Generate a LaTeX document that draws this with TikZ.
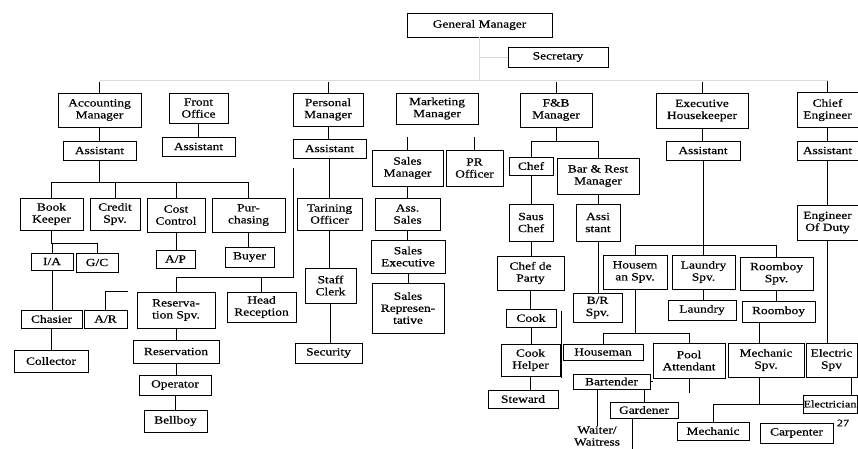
\documentclass[tikz,border=0pt]{standalone}
\usepackage{fontspec}
\setmainfont{Liberation Serif}[FakeStretch=1.22,FakeBold=0.5]
\tikzset{
  bx/.style={draw, line width=0.9pt, align=center, inner sep=0pt, font=\fontsize{11}{12}\selectfont},
  plain/.style={align=center, inner sep=0pt, font=\fontsize{11}{12}\selectfont},
  ln/.style={line width=0.9pt},
  faint/.style={line width=0.8pt, black!14},
}
\newcommand{\mybox}[6]{\node[bx,minimum width=#4pt,minimum height=#5pt] (#1) at (#2,#3) {#6};}
\newcommand{\vl}[2]{\draw[ln] (#1.south) -- (#1.south |- #2.north);}
\begin{document}
\begin{tikzpicture}[x=1pt,y=-1pt]
\fill[white] (0,0) rectangle (858,448);
\useasboundingbox (0,0) rectangle (858,448);
% top
\mybox{gm}{479.5}{25}{145}{24}{General Manager}
\mybox{sec}{558}{57}{100}{20}{Secretary}
% managers
\mybox{acm}{99.5}{110}{83}{34}{Accounting\\Manager}
\mybox{fo}{198.5}{108}{59}{30}{Front\\Office}
\mybox{pm}{328}{109.5}{70}{33}{Personal\\Manager}
\mybox{mm}{437}{108.5}{82}{31}{Marketing\\Manager}
\mybox{fbm}{556}{110}{72}{34}{F\&B\\Manager}
\mybox{eh}{702}{110.5}{92}{35}{Executive\\Housekeeper}
\mybox{ce}{827.5}{110}{61}{35}{Chief\\Engineer}
% second row
\mybox{acas}{99.5}{150.5}{73}{19}{Assistant}
\mybox{foas}{198.5}{146.5}{73}{19}{Assistant}
\mybox{pmas}{329.5}{148.5}{73}{19}{Assistant}
\mybox{salesm}{407.5}{168}{71}{36}{Sales\\Manager}
\mybox{pr}{474.5}{168}{57}{36}{PR\\Officer}
\mybox{chef}{531}{166}{44}{18}{Chef}
\mybox{bar}{598}{176}{82}{36}{Bar \& Rest\\Manager}
\mybox{ehas}{703}{150.5}{74}{19}{Assistant}
\mybox{ceas}{827.5}{150.5}{61}{19}{Assistant}
% third row
\mybox{bk}{51.5}{214}{63}{32}{Book\\Keeper}
\mybox{cs}{115}{214}{50}{32}{Credit\\Spv.}
\mybox{cc}{176}{215}{58}{34}{Cost\\Control}
\mybox{pu}{248.5}{215}{73}{34}{Pur-\\chasing}
\mybox{to}{329.5}{214}{65}{32}{Tarining\\Officer}
\mybox{ass}{407.5}{214}{65}{32}{Ass.\\Sales}
\mybox{sau}{531}{222.5}{44}{37}{Saus\\Chef}
\mybox{asst}{598}{222.5}{44}{37}{Assi\\stant}
\mybox{eod}{827.5}{222.5}{61}{35}{Engineer\\Of Duty}
% fourth
\mybox{ia}{52}{261.5}{42}{17}{I/A}
\mybox{gc}{97}{262.5}{42}{19}{G/C}
\mybox{ap}{175.5}{259}{39}{18}{A/P}
\mybox{buyer}{249.5}{257}{49}{20}{Buyer}
\mybox{se}{408}{256.5}{74}{33}{Sales\\Executive}
\mybox{srep}{408}{308}{72}{50}{Sales\\Represen-\\tative}
\mybox{cdp}{530.5}{273}{67}{34}{Chef de\\Party}
\mybox{hspv}{635}{272}{64}{34}{Housem\\an Spv.}
\mybox{lspv}{703.5}{272}{63}{34}{Laundry\\Spv.}
\mybox{rspv}{776.5}{273.5}{73}{33}{Roomboy\\Spv.}
\mybox{sc}{330.5}{285.5}{51}{35}{Staff\\Clerk}
% fifth
\mybox{rs}{176}{310}{78}{36}{Reserva-\\tion Spv.}
\mybox{hr}{261.5}{307}{69}{30}{Head\\Reception}
\mybox{br}{597.5}{307.5}{49}{29}{B/R\\Spv.}
\mybox{laundry}{702}{310}{68}{20}{Laundry}
\mybox{roomboy}{778.5}{311.5}{73}{21}{Roomboy}
\mybox{cook}{531}{318}{50}{18}{Cook}
\mybox{cash}{51.5}{319}{61}{18}{Chasier}
\mybox{ar}{105.5}{319}{43}{18}{A/R}
% sixth
\mybox{res}{176}{351.5}{86}{23}{Reservation}
\mybox{secu}{328.5}{353}{67}{20}{Security}
\mybox{coll}{51}{361}{74}{22}{Collector}
\mybox{ch}{530.5}{360}{59}{32}{Cook\\Helper}
\mybox{hm}{603}{352}{80}{16}{Houseman}
\mybox{pa}{689}{360.5}{72}{35}{Pool\\Attendant}
\mybox{ms}{766}{360}{76}{34}{Mechanic\\Spv.}
\mybox{es}{831.5}{360}{51}{34}{Electric\\Spv}
% lower
\mybox{bt}{611.5}{381.5}{77}{15}{Bartender}
\mybox{op}{175}{385}{72}{20}{Operator}
\mybox{st}{523}{399}{70}{18}{Steward}
\node[bx,minimum width=54pt,minimum height=18pt,font=\fontsize{10}{12}\selectfont] (el) at (830,404) {Electrician};
\mybox{gd}{644}{410}{68}{16}{Gardener}
\mybox{bell}{175.5}{421}{63}{22}{Bellboy}
\mybox{mech}{713}{431}{72}{18}{Mechanic}
\mybox{carp}{796.5}{433}{73}{20}{Carpenter}
\node[plain] (ww) at (597,436) {Waiter/\\Waitress};
\node[plain,font=\fontsize{10}{12}\selectfont] (pg) at (843,423) {27};

% GM links (faint in the scan)
\coordinate (bus) at (0,80);
\draw[faint] (gm.south) -- (gm.south |- bus);
\draw[faint] (acm.north |- bus) -- (ce.north |- bus);
\draw[faint] (gm.south |- sec.west) -- (sec.west);
\foreach \n in {acm,pm,fbm,eh,ce} \draw[ln] (\n.north) -- ++(0,-11);

% Accounting
\vl{acm}{acas}
\coordinate (abus) at (0,182);
\draw[ln] (acas.south) -- (acas.south |- abus);
\draw[ln] (bk.north |- abus) -- (pu.north |- abus);
\foreach \n in {bk,cs,cc,pu} \draw[ln] (\n.north) -- (\n.north |- abus);
\coordinate (bkb) at (0,243);
\draw[ln] (bk.south) -- (bk.south |- bkb) -| (gc.north);
\draw[ln] (ia.north) -- (ia.north |- bkb);
\vl{ia}{cash}
\vl{cash}{coll}
\coordinate (arend) at (128,291);
\draw[ln] (ar.north) |- (arend);
\vl{cc}{ap}
\vl{pu}{buyer}

% Front office
\vl{fo}{foas}
\coordinate (fotop) at (293,168);
\coordinate (fobus) at (0,277);
\draw[ln] (fotop) -- (fotop |- fobus) -| (rs.north);
\draw[ln] (hr.north) -- (hr.north |- fobus);
\vl{rs}{res}
\vl{res}{op}
\vl{op}{bell}

% Personal
\vl{pm}{pmas}
\vl{pmas}{to}
\vl{to}{sc}
\vl{sc}{secu}

% Marketing
\draw[ln] (salesm.north) -- ++(0,-13);
\draw[ln] (pr.north) -- ++(0,-13);
\vl{salesm}{ass}
\vl{ass}{se}
\vl{se}{srep}

% F&B
\coordinate (fbus) at (0,141);
\draw[ln] (fbm.south) -- (fbm.south |- fbus);
\draw[ln] (chef.north) |- (bar.north |- fbus) -- (bar.north);
\vl{chef}{sau}
\vl{sau}{cdp}
\vl{cdp}{cook}
\vl{cook}{ch}
\vl{ch}{st}
\vl{bar}{asst}
\vl{asst}{br}
\coordinate (xa) at (561,311);
\coordinate (xb) at (561,378);
\draw[ln] (xa) -- (xb);
\draw[ln] (bt.east) -- (bt.east -| pa.west);
\draw[ln] (ww.north |- bt.south) -- (ww.north);
\draw[ln] (gd.north) -- (gd.north |- bt.south);
\draw[ln] (pa.south) -- ++(0,15);
\draw[ln] (gd.south west) ++(23,0) -- ++(0,32);

% Housekeeping
\vl{eh}{ehas}
\coordinate (hbus) at (0,245);
\draw[ln] (ehas.south) -- (ehas.south |- hbus);
\draw[ln] (hspv.north) |- (rspv.north |- hbus) -- (rspv.north);
\draw[ln] (lspv.north) -- (lspv.north |- hbus);
\coordinate (hmbus) at (0,333);
\draw[ln] (hspv.south) -- (hspv.south |- hmbus);
\draw[ln] (hm.north) |- (pa.north |- hmbus) -- (pa.north);
\vl{lspv}{laundry}
\vl{rspv}{roomboy}
\draw[ln] ([xshift=-7pt]ms.north) -- ([xshift=-7pt]ms.north |- roomboy.south);
\draw[ln] ([xshift=-7pt]ms.south) -- ([xshift=-7pt]ms.south |- el.west);
\draw[ln] (mech.north) |- (el.west);

% Chief Engineer
\vl{ce}{ceas}
\vl{ceas}{eod}
\vl{eod}{es}
\draw[ln] ([xshift=20pt]es.south) -- ([xshift=20pt]es.south |- el.north);
\end{tikzpicture}
\end{document}
